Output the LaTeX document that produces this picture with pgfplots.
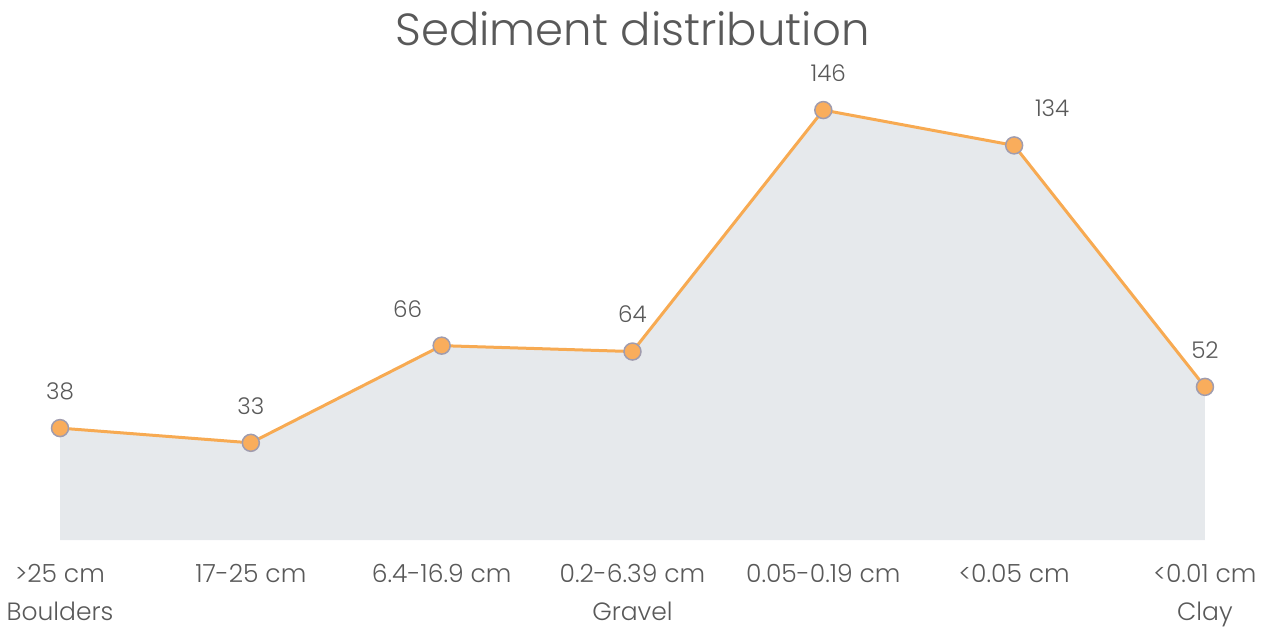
\documentclass[border=0pt]{standalone}
\usepackage{fontspec}
\setmainfont{Poppins}
\newfontfamily\lightfont{Poppins Light}
\usepackage{pgfplots}
\pgfplotsset{compat=1.18}
\usepackage{pgfplotstable}
\definecolor{areafill}{HTML}{E6E9EC}
\definecolor{lineor}{HTML}{F7AA52}
\definecolor{markor}{HTML}{F9AD5C}
\definecolor{markedge}{HTML}{A09CAE}
\definecolor{txt}{HTML}{595959}
\pgfplotstableread{
x y xs
0 38 0
1 33 0
2 66 -34
3 64 0
4 146 5
5 134 38
6 52 0
}\sed
\begin{document}
\begin{tikzpicture}
\useasboundingbox (0,0) rectangle (1274pt,630pt);
\begin{axis}[
  at={(60pt,90pt)}, anchor=south west,
  scale only axis, width=1145pt, height=480pt,
  xmin=0, xmax=6, ymin=0, ymax=163,
  hide y axis,
  x axis line style={draw=none},
  major tick length=0pt,
  clip=false,
  /pgf/number format/assume math mode=true,
  xtick={0,...,6},
  xticklabels={{>25 cm\\Boulders},{17-25 cm},{6.4-16.9 cm},{0.2-6.39 cm\\Gravel},{0.05-0.19 cm},{<0.05 cm},{<0.01 cm\\Clay}},
  xticklabel style={font=\lightfont\fontsize{25}{38}\selectfont, text=txt, align=center, anchor=north, yshift=-21pt},
  title={Sediment distribution},
  title style={font=\lightfont\fontsize{45}{50}\selectfont, text=txt, at={(0.5,1)}, anchor=center, yshift=25pt},
]
\addplot[fill=areafill, draw=none] table[x=x,y=y]{\sed} \closedcycle;
\addplot[lineor, line width=3pt, mark=*, mark size=8.5pt,
  mark options={fill=markor, draw=markedge, line width=1.5pt},
  visualization depends on={\thisrow{xs} \as \xs},
  nodes near coords,
  every node near coord/.append style={font=\lightfont\fontsize{23}{26}\selectfont, text=txt, anchor=center, yshift=37pt, xshift=\xs pt},
] table[x=x,y=y]{\sed};
\end{axis}
\end{tikzpicture}
\end{document}
